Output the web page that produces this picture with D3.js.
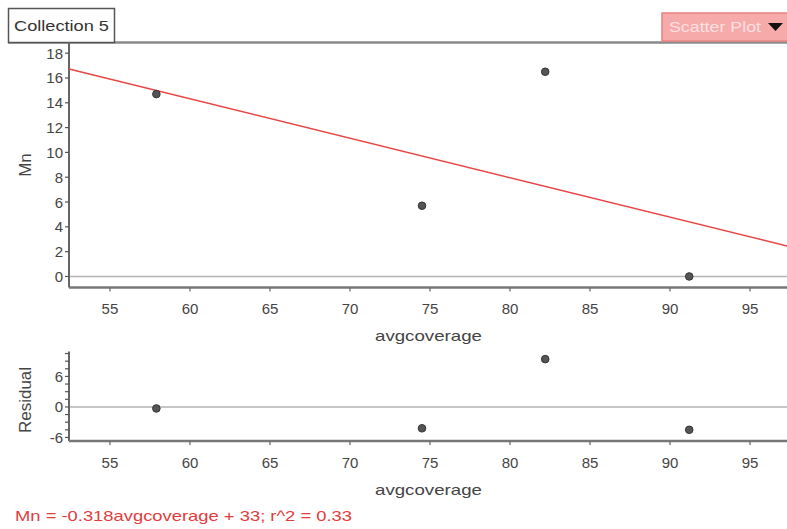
<!DOCTYPE html>
<html>
<head>
<meta charset="utf-8">
<script src="https://cdn.jsdelivr.net/npm/d3@7"></script>
<style>
  body { margin: 0; background: #fff; }
  text { font-family: "Liberation Sans", Arial, sans-serif; fill: #444; }
</style>
</head>
<body>
<div id="viz"></div>
<script>
// Data
const avgcoverage = [57.9, 74.5, 82.2, 91.2];
const mn = [14.7, 5.7, 16.5, 0];
const residual = [-0.3, -4.2, 9.4, -4.5];
const fitSlope = -0.318;
const fitIntercept = 33.4;
const xTicks = [55, 60, 65, 70, 75, 80, 85, 90, 95];
const mnTicks = [0, 2, 4, 6, 8, 10, 12, 14, 16, 18];
const residTicks = [-6, 0, 6];
const residMinorTicks = [-6, -4.5, -3, -1.5, 0, 1.5, 3, 4.5, 6, 7.5, 9, 10.5];
const collectionName = 'Collection 5';
const plotType = 'Scatter Plot';
const equationText = 'Mn = -0.318avgcoverage + 33; r^2 = 0.33';

const width = 787;
const height = 529;
const left = 69;
const right = 787;

const svg = d3.select('#viz')
  .append('svg')
    .attr('width', width)
    .attr('height', height);

// Scales
const x = d3.scaleLinear()
  .domain([52.44, 97.31])
  .range([left, right]);
const yMn = d3.scaleLinear()
  .domain([-0.85, 18.9])
  .range([287, 42]);
const yRes = d3.scaleLinear()
  .domain([-6.6, 10.9])
  .range([440.5, 351.5]);

// Header: collection box, top rule, plot type button
svg.append('line')
  .attr('x1', 8).attr('x2', width)
  .attr('y1', 42.5).attr('y2', 42.5)
  .attr('stroke', '#8a8a8a').attr('stroke-width', 2.5);
svg.append('rect')
  .attr('x', 8.5).attr('y', 8.5)
  .attr('width', 106).attr('height', 34)
  .attr('fill', '#fff').attr('stroke', '#555').attr('stroke-width', 1.5);
svg.append('text')
  .attr('x', 14).attr('y', 31)
  .style('font-size', '15px')
  .style('fill', '#333')
  .attr('textLength', 95)
  .attr('lengthAdjust', 'spacingAndGlyphs')
  .text(collectionName);

svg.append('rect')
  .attr('x', 662).attr('y', 13)
  .attr('width', 126).attr('height', 28)
  .attr('fill', '#f6aaaa').attr('stroke', '#e98080').attr('stroke-width', 1.5);
svg.append('text')
  .attr('x', 669).attr('y', 32)
  .style('font-size', '15px')
  .style('fill', '#fbe0e0')
  .attr('textLength', 92)
  .attr('lengthAdjust', 'spacingAndGlyphs')
  .text(plotType);
svg.append('path')
  .attr('d', 'M768,23 L783,23 L775.5,31 Z')
  .attr('fill', '#111');

// Generic axis drawer
function drawPanel(y, yTicks, yMinor, yLabel, labelY, xAxisY, xLabelY, xTitleY) {
  const g = svg.append('g');

  // horizontal reference line at 0
  g.append('line')
    .attr('x1', left).attr('x2', right)
    .attr('y1', y(0)).attr('y2', y(0))
    .attr('stroke', '#b5b5b5').attr('stroke-width', 1.5);

  // y axis line
  g.append('line')
    .attr('x1', left).attr('x2', left)
    .attr('y1', y.range()[1]).attr('y2', xAxisY)
    .attr('stroke', '#666').attr('stroke-width', 2);

  // x axis line
  g.append('line')
    .attr('x1', left).attr('x2', right)
    .attr('y1', xAxisY).attr('y2', xAxisY)
    .attr('stroke', '#777').attr('stroke-width', 2.5);

  // y ticks
  g.selectAll('.ytick')
    .data(yMinor)
    .join('line')
      .attr('x1', left - 4).attr('x2', left)
      .attr('y1', d => y(d)).attr('y2', d => y(d))
      .attr('stroke', '#555').attr('stroke-width', 1.2);
  g.selectAll('.ylab')
    .data(yTicks)
    .join('text')
      .attr('x', left - 6)
      .attr('y', d => y(d) + 5.5)
      .attr('text-anchor', 'end')
      .style('font-size', '15px')
      .text(d => d);

  // x ticks
  g.selectAll('.xtick')
    .data(xTicks)
    .join('line')
      .attr('x1', d => x(d)).attr('x2', d => x(d))
      .attr('y1', xAxisY).attr('y2', xAxisY + 4)
      .attr('stroke', '#666').attr('stroke-width', 1.2);
  g.selectAll('.xlab')
    .data(xTicks)
    .join('text')
      .attr('x', d => x(d))
      .attr('y', xLabelY)
      .attr('text-anchor', 'middle')
      .style('font-size', '15px')
      .text(d => d);

  g.append('text')
    .attr('x', (left + right) / 2 - 53)
    .attr('y', xTitleY)
    .style('font-size', '15px')
    .attr('textLength', 107)
    .attr('lengthAdjust', 'spacingAndGlyphs')
    .text('avgcoverage');

  g.append('text')
    .attr('transform', `translate(31, ${labelY}) rotate(-90)`)
    .attr('text-anchor', 'middle')
    .style('font-size', '17px')
    .text(yLabel);

  return g;
}

// Top panel: Mn vs avgcoverage
const mnPanel = drawPanel(yMn, mnTicks, mnTicks, 'Mn', 165, 287.5, 314, 341);

const fitLine = d3.line()
  .x(d => x(d))
  .y(d => yMn(fitIntercept + fitSlope * d));
mnPanel.append('path')
  .attr('d', fitLine(x.domain()))
  .attr('stroke', '#e84545')
  .attr('stroke-width', 1.5)
  .attr('fill', 'none');

mnPanel.selectAll('.pt')
  .data(avgcoverage)
  .join('circle')
    .attr('cx', d => x(d))
    .attr('cy', (d, i) => yMn(mn[i]))
    .attr('r', 3.8)
    .attr('fill', '#555')
    .attr('stroke', '#333')
    .attr('stroke-width', 1);

// Bottom panel: residuals
const resPanel = drawPanel(yRes, residTicks, residMinorTicks, 'Residual', 400, 441, 468, 495);

resPanel.selectAll('.pt')
  .data(avgcoverage)
  .join('circle')
    .attr('cx', d => x(d))
    .attr('cy', (d, i) => yRes(residual[i]))
    .attr('r', 3.8)
    .attr('fill', '#555')
    .attr('stroke', '#333')
    .attr('stroke-width', 1);

// Regression equation
svg.append('text')
  .attr('x', 15)
  .attr('y', 521)
  .style('font-size', '15px')
  .style('fill', '#e23c3c')
  .attr('textLength', 337)
  .attr('lengthAdjust', 'spacingAndGlyphs')
  .text(equationText);
</script>
</body>
</html>
